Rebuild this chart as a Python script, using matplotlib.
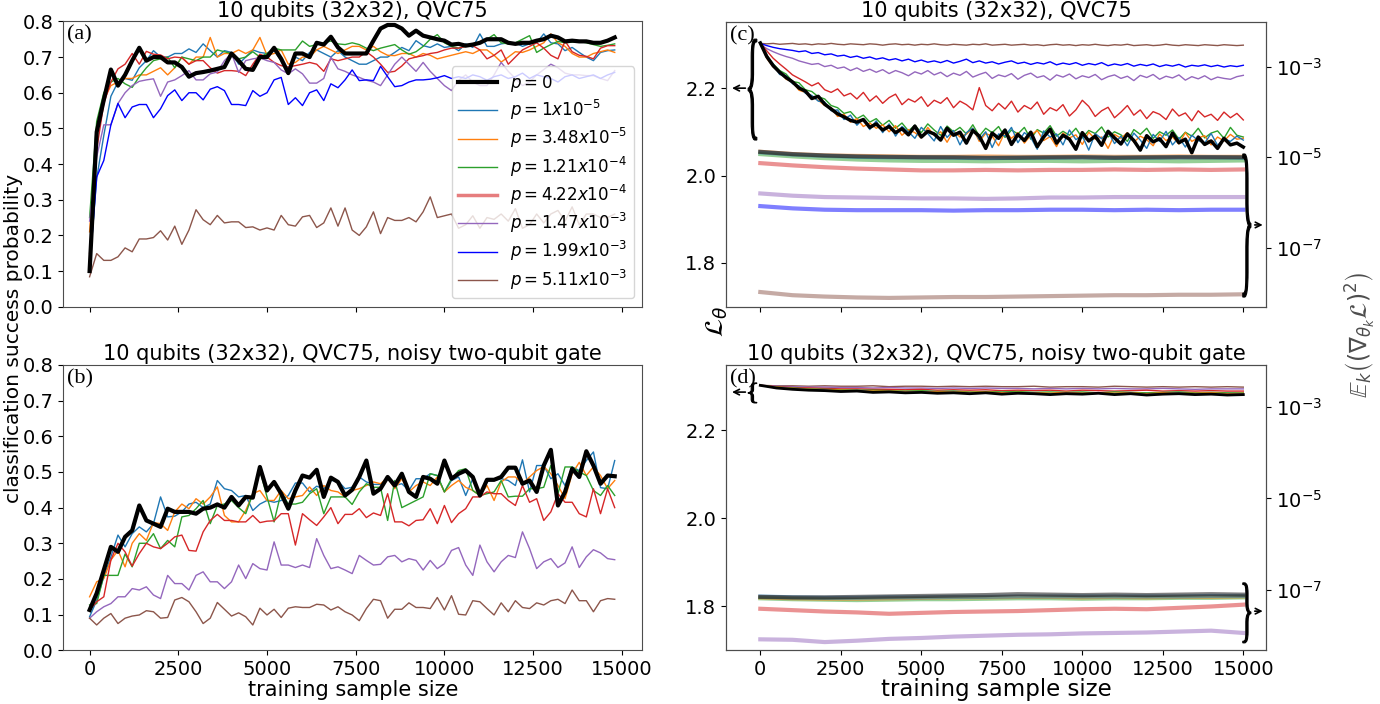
import matplotlib
matplotlib.use('Agg')
import matplotlib.pyplot as plt
import numpy as np
from matplotlib.textpath import TextPath
from matplotlib.patches import PathPatch
from matplotlib.font_manager import FontProperties
from matplotlib.transforms import Affine2D
from matplotlib.ticker import NullLocator

# ---------------- data ----------------
# training sample size grids
x_ab = np.arange(0, 15000, 200)          # panels (a), (b)
x_loss = np.arange(0, 15001, 200)        # loss curves in (c)
x_loss_d = np.arange(0, 15001, 500)      # loss curves in (d)
x_grad = np.arange(0, 15001, 1000)       # gradient variance curves

labels = ['$p=0$', '$p=1x10^{-5}$', '$p=3.48x10^{-5}$', '$p=1.21x10^{-4}$',
          '$p=4.22x10^{-4}$', '$p=1.47x10^{-3}$', '$p=1.99x10^{-3}$', '$p=5.11x10^{-3}$']
colors = ['k', '#1f77b4', '#ff7f0e', '#2ca02c', '#d62728', '#9467bd', '#0000ff', '#8c564b']

# (a) success probability in %, depolarizing noise on all gates
acc_a_p0 = [10, 49, 58, 66.5, 62, 65, 69, 72.6, 69, 70, 70, 68.5, 68.5, 67.2, 64.5, 65.5, 65.8, 66.2, 66.7, 67.2,
            71, 69, 66.7, 66.4, 70, 70, 72.6, 69.5, 65.5, 71, 71, 70, 74, 73.5, 75.7, 72.7, 71, 71, 71, 71,
            74.6, 78, 79, 79, 78, 76, 77.4, 76, 75.5, 75, 74.6, 73.5, 73.7, 73.2, 73.5, 74, 75, 75, 75, 74,
            73.7, 74, 74, 74.6, 75, 76, 75.5, 74.4, 74.6, 74.4, 74.4, 74, 74, 74.6, 75.5]
acc_a_p1 = [11, 36, 48, 59, 63, 64, 63.5, 67, 69, 71.8, 70, 70, 71, 71, 72.3, 71.3, 73.7, 71.8, 70, 71.8,
            71.3, 68, 70, 72, 71.3, 71, 71.8, 69, 66.2, 70, 69, 71.3, 72, 71, 70, 71.8, 70, 69, 68, 68,
            69, 70, 70, 71.3, 72.7, 71.8, 74.6, 73.2, 72.7, 73.7, 72.7, 73, 71.8, 73.7, 72.7, 76.5, 73, 73, 73.7, 74,
            74, 73, 73.7, 74, 76.5, 74, 73.7, 71.8, 72.7, 71.3, 70, 69, 71.3, 71.8, 72]
acc_a_p2 = [21, 50, 58, 62, 63, 64, 64, 65, 65, 66, 67, 65, 67, 70, 68, 70, 70, 75.5, 70, 71,
            71, 72, 71, 72, 75.5, 70.5, 71, 72, 68, 68.5, 70, 70, 72, 73, 72, 71, 72, 73, 73, 72,
            73, 71.5, 70.5, 70.4, 71, 71, 70, 71, 70.5, 69.5, 70, 70.5, 71, 71.5, 71, 72, 72, 70.5, 68.6, 70,
            71.5, 71.3, 72, 73, 74, 76.5, 74, 73, 71, 70, 70, 71, 71.5, 72, 71.3]
acc_a_p3 = [25, 52, 60, 63, 64, 62.5, 61.5, 64.5, 67, 69, 69.5, 70, 67, 70, 69.5, 69, 70, 70, 72, 71.5,
            71, 69.5, 70, 71.5, 70, 71, 72.5, 72, 72, 72, 74.5, 73, 73.5, 74, 74.5, 73.7, 73.5, 74, 73.5, 72.5,
            71.8, 72.5, 73, 73.5, 72, 70.8, 71.5, 73, 75, 76.3, 74, 73, 72.5, 73, 73.5, 74, 75, 76.3, 74, 73.7,
            74, 75, 76, 71.3, 72.5, 73.5, 74.4, 74, 74.2, 74.4, 74, 73.5, 73, 73.3, 73.7]
acc_a_p4 = [15, 44, 57, 63, 66.7, 68, 71, 68, 71.6, 70.8, 70.6, 69.5, 70, 69.8, 68, 69, 69, 67, 65.5, 66.2,
            66.2, 66, 64.8, 68, 70.8, 70, 68.5, 67.6, 67.2, 67.6, 68, 68.5, 68, 66, 69.5, 69, 69.5, 70, 70, 71.5,
            70, 68, 65.7, 66, 67.5, 69.5, 70, 70.4, 71, 71.3, 72, 72.5, 72.5, 73, 73.2, 72, 69.5, 70.5, 72, 68,
            70, 72, 73, 74, 72.5, 70.5, 69.5, 74.5, 71.5, 70.5, 70.2, 69.5, 72.5, 73.2, 73.2]
acc_a_p5 = [24, 42, 51, 51, 57, 60, 62, 63.2, 63.6, 63.9, 59, 63, 63.6, 64.8, 66.2, 63.6, 63.6, 65.3, 65.8, 69,
            71, 65.7, 69, 69.5, 69.8, 69, 68.5, 66.4, 65.3, 66.7, 65.3, 62.7, 62.7, 64, 70, 66.7, 66, 65, 64.3, 63.5,
            63, 62, 65, 68, 70, 68, 66, 68.5, 66, 64, 62, 60.6, 63.5, 65, 63, 62, 62, 65, 68.5, 66,
            64, 62, 63, 65, 66.5, 68, 67, 65.5, 65, 65, 64.8, 64.8, 64, 63.4, 66.2]
acc_a_p6 = [11, 36.4, 41, 51, 57, 53, 56, 56.7, 56.7, 53, 55.5, 59.2, 60.8, 57.8, 60, 60, 58, 61, 61.7, 60.6,
            56.7, 56.7, 56.4, 60.6, 59, 60, 63.6, 64.3, 56.7, 58.6, 56.4, 60, 60.8, 57.8, 62.5, 61.4, 63.6, 66.4, 63.4, 63.6,
            63.4, 67.4, 64.5, 61.7, 62, 63, 63.6, 63.6, 63.8, 64.2, 64.8, 64, 64.5, 64, 65, 64.5, 63.5, 64.5, 65, 64,
            64.5, 65.5, 64, 65, 64.5, 64, 63, 64.5, 65, 64, 64.5, 65, 64, 65, 65.7]
acc_a_p7 = [8.4, 14.9, 13, 13, 14, 16.5, 15.4, 19, 19, 19.4, 21.3, 18.7, 22.6, 17.5, 21.5, 27.2, 24.4, 23, 25.6, 23.5,
            23.8, 23.8, 22.2, 22.4, 21.5, 22.1, 21.5, 25.6, 23, 22.6, 25.2, 25.6, 22.2, 23.5, 27.7, 22.6, 27.7, 21.5, 20, 22.4,
            26.6, 20.5, 25, 24.2, 24.2, 25, 23.8, 26.6, 30.8, 25, 25.5, 26, 22, 23, 25.5, 22, 25, 24.5, 26, 24,
            27.5, 22, 23, 26, 23.5, 26, 27, 24, 28, 23, 26, 26, 25, 25, 26]

# (b) success probability in %, noisy two-qubit gate (no p=1.99e-3 run)
acc_b_p0 = [11.3, 16, 22.5, 29, 27.6, 31.8, 33.6, 40.6, 36.4, 35.5, 34.6, 39.7, 38.8, 38.8, 38.8, 38.3, 39.7, 40, 40.9, 40,
            43, 40.6, 43, 42.8, 51.4, 44.8, 47.2, 43.9, 39.7, 44.8, 49, 48.4, 50.6, 43, 48.4, 47.2, 43.4, 45, 48.6, 53.2,
            43.9, 45.3, 48.6, 46.2, 49.5, 44.4, 43, 48.6, 48.1, 46.7, 53.2, 48.1, 49.5, 50.4, 48.6, 43.4, 47.8, 47.8, 48.6, 51.2,
            51.2, 46.7, 47.6, 44.4, 51.8, 56.2, 40.6, 44.4, 50.9, 48.6, 55.8, 51.8, 46.7, 49, 48.8]
acc_b_p1 = [9.4, 14, 20.6, 26.2, 32.3, 29, 32.7, 34.6, 33.2, 35.5, 43, 37.4, 37.6, 38.8, 41, 41.5, 40, 41, 47.6, 45.3,
            44.8, 43, 43.4, 39.2, 41, 42, 41.5, 42, 43.4, 46.9, 46.9, 44.4, 46, 45.3, 47.6, 47.5, 45.3, 45.7, 48.6, 47.2,
            46.5, 46.5, 48.1, 46.2, 46.7, 44.8, 48.1, 48.1, 49.5, 49, 44.4, 47.6, 48.6, 43.4, 48.1, 43.4, 47.6, 47.6, 48.1, 47.6,
            46.2, 53.4, 44.4, 51.8, 51.8, 48.1, 49.5, 46.2, 51.4, 50.4, 53.2, 55.6, 45.6, 45.3, 53.2]
acc_b_p2 = [15, 19.2, 20.1, 25.3, 28, 23.4, 30, 32.7, 30.8, 35.8, 35.5, 33.6, 38.8, 41, 39.7, 42.5, 41, 43, 45.8, 37.8,
            36, 36, 39.2, 43.9, 44.8, 42, 42, 44.8, 42.5, 43, 43.4, 45.8, 43.4, 46.2, 44.8, 44.4, 43, 44.8, 45.3, 46.2,
            47.2, 46.7, 48.4, 45.3, 48.1, 44.4, 46.2, 47.2, 46.2, 48.6, 44.4, 46.2, 47.6, 45.7, 44.8, 43.4, 46.2, 42, 47.2, 48.6,
            48.6, 46.7, 48.6, 50.4, 51.5, 49.5, 46.2, 42.5, 49.5, 52.7, 49, 51.4, 49, 45.3, 47.6]
acc_b_p3 = [12.7, 13.1, 21, 21, 21, 27, 23.4, 30, 30, 32.7, 28.5, 30.8, 29, 37.4, 37.8, 39.7, 42, 35.5, 40.6, 41,
            42, 40, 38.3, 43.9, 50.5, 43, 36, 44.4, 41, 41, 41.5, 43.9, 45.3, 38.3, 43, 43, 43, 40.9, 44.4, 46.7,
            45.7, 45.7, 36.4, 47.6, 40, 41, 42, 43, 49.5, 49, 44.4, 48.1, 50.4, 50.9, 44.8, 43.4, 43.9, 44.4, 47.6, 43,
            43.2, 43.2, 45.3, 45.3, 45.7, 51.8, 43.9, 51.4, 51.4, 50, 49, 44.8, 43.4, 46.2, 43.4]
acc_b_p4 = [11.3, 13.6, 15, 25.3, 30, 27.6, 23.6, 27.1, 30, 29, 28.5, 30, 31.8, 32.3, 28, 27.8, 33.2, 36.4, 38.1, 36.4,
            36.4, 36, 36, 37.8, 35.8, 36.2, 36.3, 38.3, 38.3, 29.5, 38.3, 36.6, 35, 37.4, 40, 35.5, 38.1, 38.1, 39.7, 37.2,
            38.5, 37.8, 43.9, 36, 36, 34.9, 36.4, 36.6, 39.7, 35.5, 40.6, 35.8, 38.3, 39.7, 43, 43, 44.4, 43.9, 43.9, 42,
            40.6, 46.2, 41.5, 42.5, 36.4, 38.8, 43.9, 41.5, 41.5, 38.3, 37.4, 45.3, 38.3, 45.3, 40]
acc_b_p5 = [9, 10.8, 12.2, 13.1, 15, 15, 17.3, 16.9, 17.8, 15.5, 14.5, 21, 18.7, 18.7, 16.9, 21, 22, 19.2, 19.2, 17.3,
            19.2, 23.9, 20.1, 24.3, 22.9, 22.5, 30.4, 23.9, 23.9, 23.2, 23.9, 23.2, 31.3, 26.6, 22.9, 23.4, 22.5, 21.5, 26.6, 25.2,
            23.9, 24.1, 26.2, 26.6, 24.8, 25.7, 25.2, 22.5, 25.2, 22.9, 24.3, 28, 28.8, 23.9, 21, 29.5, 24.8, 22, 24.8, 26.6,
            26, 33.2, 28.5, 22.9, 24.8, 25.7, 23.2, 24.5, 29, 23.2, 26.2, 28.2, 27.3, 25.7, 25.4]
acc_b_p7 = [9, 7.1, 9, 10.3, 7.5, 9, 9.6, 9.9, 11.1, 10.8, 9, 9.2, 14.1, 14.8, 13.6, 10.8, 7.5, 9, 13.4, 11.5,
            9.6, 10.5, 9.4, 7.1, 11.8, 9.9, 11.5, 9.2, 11.8, 12.2, 12, 12, 12.9, 12.7, 11.3, 12.2, 10.8, 9.9, 8.3, 11.7,
            14.3, 13.9, 9, 11.5, 11.5, 13.3, 12, 12, 11.7, 14.8, 11.3, 15.3, 10.1, 9.9, 13.9, 13.6, 11.7, 9.9, 13.3, 10.8,
            13.9, 12, 11.7, 13.3, 12.7, 13.9, 14.3, 13.1, 16.9, 13.9, 13.9, 10.8, 13.9, 14.5, 14.3]

# (c) loss L_theta
loss_c_p0 = [2.303, 2.272, 2.251, 2.236, 2.224, 2.214, 2.200, 2.193, 2.176, 2.181, 2.163, 2.152, 2.141, 2.134, 2.126, 2.122,
             2.128, 2.110, 2.118, 2.104, 2.112, 2.098, 2.107, 2.093, 2.113, 2.088, 2.101, 2.095, 2.081, 2.108, 2.092, 2.099,
             2.074, 2.103, 2.090, 2.062, 2.097, 2.085, 2.104, 2.071, 2.094, 2.080, 2.099, 2.066, 2.088, 2.106, 2.074, 2.092,
             2.083, 2.060, 2.098, 2.079, 2.090, 2.069, 2.101, 2.086, 2.072, 2.095, 2.080, 2.058, 2.091, 2.077, 2.084, 2.066,
             2.097, 2.075, 2.083, 2.052, 2.088, 2.071, 2.079, 2.062, 2.085, 2.070, 2.074, 2.065]
loss_c_p1 = [2.303, 2.270, 2.255, 2.231, 2.228, 2.210, 2.205, 2.188, 2.183, 2.170, 2.168, 2.148, 2.150, 2.128, 2.138, 2.115,
             2.130, 2.105, 2.125, 2.098, 2.118, 2.090, 2.112, 2.100, 2.085, 2.110, 2.096, 2.079, 2.112, 2.087, 2.103, 2.070,
             2.098, 2.108, 2.082, 2.100, 2.064, 2.095, 2.090, 2.110, 2.075, 2.098, 2.087, 2.060, 2.102, 2.088, 2.095, 2.070,
             2.104, 2.082, 2.091, 2.058, 2.096, 2.084, 2.100, 2.073, 2.090, 2.068, 2.097, 2.081, 2.062, 2.094, 2.078, 2.101,
             2.070, 2.087, 2.065, 2.092, 2.080, 2.074, 2.096, 2.069, 2.084, 2.078, 2.090, 2.081]
loss_c_p2 = [2.302, 2.268, 2.248, 2.238, 2.220, 2.215, 2.195, 2.190, 2.180, 2.172, 2.160, 2.155, 2.135, 2.140, 2.122, 2.130,
             2.112, 2.120, 2.108, 2.116, 2.100, 2.114, 2.092, 2.105, 2.098, 2.086, 2.110, 2.092, 2.100, 2.076, 2.102, 2.088,
             2.095, 2.108, 2.078, 2.096, 2.090, 2.068, 2.100, 2.085, 2.098, 2.074, 2.092, 2.103, 2.080, 2.089, 2.066, 2.097,
             2.086, 2.093, 2.071, 2.099, 2.083, 2.088, 2.062, 2.094, 2.085, 2.098, 2.076, 2.090, 2.082, 2.068, 2.095, 2.080,
             2.088, 2.072, 2.098, 2.078, 2.086, 2.091, 2.070, 2.088, 2.079, 2.094, 2.083, 2.085]
loss_c_p3 = [2.302, 2.275, 2.255, 2.240, 2.232, 2.215, 2.212, 2.196, 2.192, 2.180, 2.175, 2.160, 2.155, 2.142, 2.146, 2.130,
             2.138, 2.122, 2.130, 2.115, 2.126, 2.108, 2.120, 2.102, 2.115, 2.098, 2.118, 2.104, 2.092, 2.113, 2.100, 2.110,
             2.095, 2.116, 2.090, 2.108, 2.098, 2.112, 2.087, 2.104, 2.095, 2.110, 2.083, 2.105, 2.097, 2.114, 2.090, 2.101,
             2.092, 2.108, 2.086, 2.103, 2.096, 2.111, 2.088, 2.100, 2.093, 2.078, 2.105, 2.094, 2.108, 2.085, 2.100, 2.092,
             2.104, 2.083, 2.099, 2.090, 2.108, 2.086, 2.097, 2.102, 2.085, 2.110, 2.092, 2.088]
loss_c_p4 = [2.303, 2.285, 2.268, 2.255, 2.243, 2.230, 2.222, 2.214, 2.205, 2.212, 2.196, 2.190, 2.198, 2.182, 2.188, 2.175,
             2.190, 2.170, 2.182, 2.165, 2.178, 2.186, 2.162, 2.175, 2.168, 2.180, 2.158, 2.172, 2.165, 2.178, 2.155, 2.170,
             2.162, 2.150, 2.201, 2.160, 2.148, 2.165, 2.152, 2.170, 2.145, 2.160, 2.152, 2.168, 2.140, 2.155, 2.148, 2.162,
             2.136, 2.150, 2.172, 2.158, 2.135, 2.148, 2.156, 2.132, 2.145, 2.160, 2.138, 2.150, 2.130, 2.146, 2.140, 2.128,
             2.152, 2.136, 2.143, 2.125, 2.148, 2.134, 2.140, 2.126, 2.145, 2.132, 2.142, 2.127]
loss_c_p5 = [2.300, 2.290, 2.283, 2.277, 2.272, 2.268, 2.262, 2.258, 2.254, 2.256, 2.249, 2.252, 2.245, 2.248, 2.240, 2.246,
             2.238, 2.243, 2.236, 2.242, 2.233, 2.240, 2.235, 2.228, 2.237, 2.232, 2.240, 2.230, 2.236, 2.226, 2.234, 2.229,
             2.238, 2.225, 2.231, 2.236, 2.222, 2.230, 2.226, 2.233, 2.220, 2.229, 2.234, 2.224, 2.228, 2.218, 2.230, 2.225,
             2.232, 2.221, 2.228, 2.224, 2.231, 2.219, 2.226, 2.230, 2.222, 2.227, 2.217, 2.229, 2.224, 2.231, 2.220, 2.227,
             2.223, 2.230, 2.218, 2.226, 2.221, 2.228, 2.219, 2.225, 2.222, 2.220, 2.226, 2.229]
loss_c_p6 = [2.302, 2.297, 2.293, 2.290, 2.288, 2.286, 2.283, 2.285, 2.279, 2.281, 2.276, 2.278, 2.273, 2.275, 2.270, 2.273,
             2.268, 2.271, 2.266, 2.269, 2.264, 2.267, 2.262, 2.266, 2.260, 2.264, 2.259, 2.262, 2.258, 2.263, 2.257, 2.261,
             2.266, 2.258, 2.262, 2.257, 2.260, 2.255, 2.259, 2.262, 2.256, 2.259, 2.254, 2.258, 2.255, 2.260, 2.253, 2.257,
             2.254, 2.258, 2.252, 2.256, 2.253, 2.258, 2.251, 2.255, 2.252, 2.256, 2.250, 2.254, 2.251, 2.255, 2.249, 2.253,
             2.250, 2.254, 2.248, 2.252, 2.250, 2.253, 2.249, 2.252, 2.248, 2.251, 2.249, 2.252]
loss_c_p7 = [2.302, 2.301, 2.302, 2.300, 2.301, 2.302, 2.300, 2.301, 2.299, 2.301, 2.300, 2.302, 2.300, 2.299, 2.301, 2.300,
             2.299, 2.301, 2.300, 2.298, 2.300, 2.301, 2.299, 2.300, 2.298, 2.300, 2.299, 2.301, 2.299, 2.298, 2.300, 2.299,
             2.298, 2.300, 2.299, 2.301, 2.298, 2.299, 2.300, 2.298, 2.299, 2.300, 2.298, 2.299, 2.297, 2.299, 2.300, 2.298,
             2.299, 2.297, 2.299, 2.298, 2.300, 2.298, 2.297, 2.299, 2.298, 2.300, 2.297, 2.298, 2.299, 2.297, 2.298, 2.300,
             2.298, 2.297, 2.299, 2.298, 2.297, 2.299, 2.298, 2.297, 2.299, 2.298, 2.297, 2.298]

# (d) loss L_theta, noisy two-qubit gate
loss_d_p0 = [2.302, 2.296, 2.293, 2.291, 2.290, 2.288, 2.289, 2.286, 2.287, 2.285, 2.286, 2.284, 2.285, 2.283, 2.285, 2.282,
             2.284, 2.283, 2.281, 2.283, 2.282, 2.284, 2.281, 2.283, 2.280, 2.282, 2.283, 2.281, 2.282, 2.280, 2.281]
loss_d_p1 = [2.302, 2.297, 2.294, 2.292, 2.291, 2.289, 2.290, 2.287, 2.288, 2.286, 2.287, 2.285, 2.286, 2.284, 2.285, 2.283,
             2.285, 2.284, 2.282, 2.284, 2.283, 2.284, 2.282, 2.284, 2.281, 2.283, 2.284, 2.282, 2.283, 2.281, 2.282]
loss_d_p2 = [2.302, 2.298, 2.295, 2.293, 2.292, 2.291, 2.290, 2.289, 2.289, 2.288, 2.288, 2.287, 2.287, 2.286, 2.287, 2.285,
             2.286, 2.285, 2.284, 2.286, 2.284, 2.285, 2.284, 2.285, 2.283, 2.285, 2.284, 2.284, 2.285, 2.283, 2.284]
loss_d_p3 = [2.302, 2.298, 2.296, 2.294, 2.293, 2.292, 2.291, 2.291, 2.290, 2.289, 2.290, 2.288, 2.289, 2.287, 2.288, 2.287,
             2.288, 2.286, 2.287, 2.286, 2.287, 2.285, 2.287, 2.286, 2.285, 2.286, 2.287, 2.285, 2.286, 2.285, 2.285]
loss_d_p4 = [2.302, 2.299, 2.297, 2.296, 2.295, 2.294, 2.294, 2.293, 2.293, 2.292, 2.293, 2.291, 2.292, 2.291, 2.292, 2.290,
             2.291, 2.290, 2.291, 2.289, 2.291, 2.290, 2.289, 2.290, 2.291, 2.289, 2.290, 2.289, 2.290, 2.289, 2.289]
loss_d_p5 = [2.302, 2.300, 2.299, 2.298, 2.298, 2.297, 2.297, 2.296, 2.297, 2.296, 2.296, 2.295, 2.296, 2.295, 2.296, 2.295,
             2.295, 2.294, 2.295, 2.294, 2.295, 2.294, 2.295, 2.294, 2.294, 2.295, 2.294, 2.293, 2.294, 2.294, 2.294]
loss_d_p7 = [2.302, 2.301, 2.301, 2.300, 2.301, 2.300, 2.300, 2.301, 2.299, 2.300, 2.300, 2.299, 2.300, 2.299, 2.300, 2.299,
             2.299, 2.300, 2.298, 2.299, 2.299, 2.298, 2.300, 2.299, 2.298, 2.299, 2.298, 2.299, 2.298, 2.299, 2.298]

# log10 of E_k((d L / d theta_k)^2)
grad_c_p0 = [-4.88, -4.93, -4.96, -4.98, -4.99, -5.00, -5.00, -5.01, -5.01, -5.00, -5.00, -5.01, -5.00, -5.00, -5.00, -5.00]
grad_c_p1 = [-4.89, -4.94, -4.97, -4.99, -5.00, -5.00, -5.01, -5.02, -5.01, -5.01, -5.00, -5.01, -5.01, -5.00, -5.00, -5.01]
grad_c_p2 = [-4.88, -4.93, -4.96, -4.97, -4.98, -4.99, -4.99, -4.98, -4.99, -4.99, -4.98, -4.99, -4.99, -4.98, -4.99, -4.99]
grad_c_p3 = [-4.93, -4.98, -5.02, -5.05, -5.07, -5.08, -5.08, -5.09, -5.08, -5.08, -5.09, -5.08, -5.08, -5.09, -5.08, -5.07]
grad_c_p4 = [-5.13, -5.18, -5.22, -5.25, -5.27, -5.29, -5.29, -5.28, -5.29, -5.28, -5.28, -5.27, -5.28, -5.27, -5.28, -5.27]
grad_c_p5 = [-5.80, -5.85, -5.88, -5.89, -5.90, -5.91, -5.91, -5.92, -5.91, -5.89, -5.89, -5.88, -5.88, -5.88, -5.88, -5.88]
grad_c_p6 = [-6.08, -6.13, -6.16, -6.17, -6.17, -6.17, -6.18, -6.17, -6.17, -6.16, -6.16, -6.17, -6.16, -6.17, -6.16, -6.16]
grad_c_p7 = [-7.98, -8.05, -8.08, -8.10, -8.11, -8.10, -8.09, -8.09, -8.08, -8.07, -8.06, -8.05, -8.05, -8.04, -8.04, -8.03]

grad_d_p0 = [-7.16, -7.17, -7.17, -7.16, -7.15, -7.14, -7.13, -7.12, -7.10, -7.11, -7.12, -7.11, -7.12, -7.11, -7.10, -7.11]
grad_d_p1 = [-7.15, -7.17, -7.18, -7.18, -7.17, -7.17, -7.16, -7.16, -7.15, -7.15, -7.15, -7.15, -7.15, -7.15, -7.14, -7.14]
grad_d_p2 = [-7.17, -7.19, -7.20, -7.20, -7.19, -7.18, -7.17, -7.17, -7.16, -7.16, -7.17, -7.16, -7.17, -7.16, -7.16, -7.15]
grad_d_p3 = [-7.19, -7.21, -7.22, -7.23, -7.22, -7.21, -7.21, -7.20, -7.19, -7.19, -7.20, -7.19, -7.19, -7.18, -7.18, -7.17]
grad_d_p4 = [-7.42, -7.45, -7.48, -7.50, -7.53, -7.51, -7.49, -7.48, -7.47, -7.45, -7.43, -7.42, -7.43, -7.40, -7.37, -7.33]
grad_d_p5 = [-8.09, -8.10, -8.15, -8.12, -8.08, -8.06, -8.03, -8.01, -7.99, -7.98, -7.96, -7.95, -7.94, -7.92, -7.90, -7.95]

# ---------------- style ----------------
plt.rcParams['axes.edgecolor'] = '0.3'
plt.rcParams['xtick.labelsize'] = 14
plt.rcParams['ytick.labelsize'] = 14

XT = [0, 2500, 5000, 7500, 10000, 12500, 15000]


def draw_brace(ax, char, x0, x1, y0, y1):
    # stretched serif brace, given in axes fraction
    tp = TextPath((0, 0), char, size=1, prop=FontProperties(family='Liberation Serif'))
    bb = tp.get_extents()
    tr = (Affine2D().translate(-bb.x0, -bb.y0)
          .scale((x1 - x0) / bb.width, (y1 - y0) / bb.height).translate(x0, y0))
    ax.add_patch(PathPatch(tr.transform_path(tp), transform=ax.transAxes,
                           fc='k', ec='k', lw=0.8, clip_on=False, zorder=10))


def arrow(ax, x_from, x_to, y):
    ax.annotate('', xy=(x_to, y), xytext=(x_from, y), xycoords='axes fraction',
                arrowprops=dict(arrowstyle='->', lw=1.2, color='k'), annotation_clip=False)


def panel_letter(ax, s):
    ax.text(0.007, 0.985, s, transform=ax.transAxes, ha='left', va='top',
            fontsize=16, family='Liberation Serif')


fig = plt.figure(figsize=(13.8, 7.04), dpi=100)
ax_a = fig.add_axes([0.0459, 0.5643, 0.4196, 0.4053])
ax_b = fig.add_axes([0.0459, 0.0763, 0.4196, 0.4053])
ax_c = fig.add_axes([0.5261, 0.5643, 0.3913, 0.4048])
ax_d = fig.add_axes([0.5261, 0.0763, 0.3913, 0.4057])

# ---- (a) ----
acc_a = [acc_a_p0, acc_a_p1, acc_a_p2, acc_a_p3, acc_a_p4, acc_a_p5, acc_a_p6, acc_a_p7]
for k, ys in enumerate(acc_a):
    ax_a.plot(x_ab, np.array(ys) / 100, color=colors[k], lw=3 if k == 0 else 1,
              zorder=3 if k == 0 else 2, label=labels[k])
leg = ax_a.legend(loc='lower right', fontsize=12, framealpha=0.8, handlelength=2.3,
                  labelspacing=0.25)
leg.get_lines()[4].set_linewidth(2.5)
leg.get_lines()[4].set_alpha(0.6)
ax_a.set_title('10 qubits (32x32), QVC75', fontsize=15, pad=3.5)

# ---- (b) ----
acc_b = [acc_b_p0, acc_b_p1, acc_b_p2, acc_b_p3, acc_b_p4, acc_b_p5, None, acc_b_p7]
for k, ys in enumerate(acc_b):
    if ys is None:
        continue
    ax_b.plot(x_ab, np.array(ys) / 100, color=colors[k], lw=3 if k == 0 else 1,
              zorder=3 if k == 0 else 2)
ax_b.set_title('10 qubits (32x32), QVC75, noisy two-qubit gate', fontsize=15, pad=3.5)
ax_b.set_xlabel('training sample size', fontsize=15, labelpad=1)

for ax, s in ((ax_a, '(a)'), (ax_b, '(b)')):
    ax.set_xlim(-740, 15580)
    ax.set_ylim(0, 0.8)
    ax.set_yticks(np.arange(0, 0.81, 0.1))
    ax.set_xticks(XT)
    panel_letter(ax, s)
ax_a.tick_params(labelbottom=False)

# ---- (c) ----
loss_c = [loss_c_p0, loss_c_p1, loss_c_p2, loss_c_p3, loss_c_p4, loss_c_p5, loss_c_p6, loss_c_p7]
for k in range(7, -1, -1):
    ax_c.plot(x_loss, loss_c[k], color=colors[k], lw=2.5 if k == 0 else 1)
ax_c2 = ax_c.twinx()
grad_c = [grad_c_p0, grad_c_p1, grad_c_p2, grad_c_p3, grad_c_p4, grad_c_p5, grad_c_p6, grad_c_p7]
for k in range(7, -1, -1):
    ax_c2.plot(x_grad, 10.0 ** np.array(grad_c[k]), color=colors[k], lw=3, alpha=0.5)
ax_c.set_title('10 qubits (32x32), QVC75', fontsize=15, pad=3.5)
ax_c.set_ylim(1.70, 2.3515)
ax_c2.set_yscale('log')
ax_c2.set_ylim(10 ** -8.305, 10 ** -2.004)

# ---- (d) ----
loss_d = [loss_d_p0, loss_d_p1, loss_d_p2, loss_d_p3, loss_d_p4, loss_d_p5, None, loss_d_p7]
for k in range(7, -1, -1):
    if loss_d[k] is None:
        continue
    ax_d.plot(x_loss_d, loss_d[k], color=colors[k], lw=2 if k == 0 else 1)
ax_d2 = ax_d.twinx()
grad_d = [grad_d_p0, grad_d_p1, grad_d_p2, grad_d_p3, grad_d_p4, grad_d_p5]
for k in range(5, -1, -1):
    ax_d2.plot(x_grad, 10.0 ** np.array(grad_d[k]), color=colors[k], lw=3, alpha=0.5)
ax_d.set_title('10 qubits (32x32), QVC75, noisy two-qubit gate', fontsize=15, pad=3.5)
ax_d.set_xlabel('training sample size', fontsize=16.5, labelpad=-1)
ax_d.set_ylim(1.70, 2.349)
ax_d2.set_yscale('log')
ax_d2.set_ylim(10 ** -8.33, 10 ** -2.07)

for ax, ax2, s in ((ax_c, ax_c2, '(c)'), (ax_d, ax_d2, '(d)')):
    ax.set_xlim(-1065, 15705)
    ax.set_xticks(XT)
    ax.set_yticks([1.8, 2.0, 2.2])
    ax2.set_yticks([1e-7, 1e-5, 1e-3])
    ax2.yaxis.set_minor_locator(NullLocator())
    panel_letter(ax2, s)
ax_c.tick_params(labelbottom=False)

# braces pointing each group of curves to its axis
draw_brace(ax_c2, '{', 0.041, 0.057, 0.585, 0.939)
arrow(ax_c2, 0.041, 0.006, 0.767)
draw_brace(ax_c2, '}', 0.957, 0.972, 0.034, 0.536)
arrow(ax_c2, 0.974, 0.999, 0.287)
draw_brace(ax_d2, '{', 0.041, 0.057, 0.866, 0.936)
arrow(ax_d2, 0.041, 0.006, 0.904)
draw_brace(ax_d2, '}', 0.957, 0.972, 0.026, 0.236)
arrow(ax_d2, 0.974, 0.999, 0.137)

# shared axis labels
fig.text(0.0098, 0.519, 'classification success probability', rotation=90,
         fontsize=14.5, ha='center', va='center')
fig.text(0.5196, 0.543, r'$\mathcal{L}_\theta$', rotation=90, fontsize=19,
         ha='center', va='center')
fig.text(0.986, 0.525, r'$\mathbb{E}_k\left((\nabla_{\theta_k}\mathcal{L})^2\right)$',
         rotation=90, fontsize=17, ha='center', va='center', color='0.3')

fig.savefig('out.png', dpi=100)
